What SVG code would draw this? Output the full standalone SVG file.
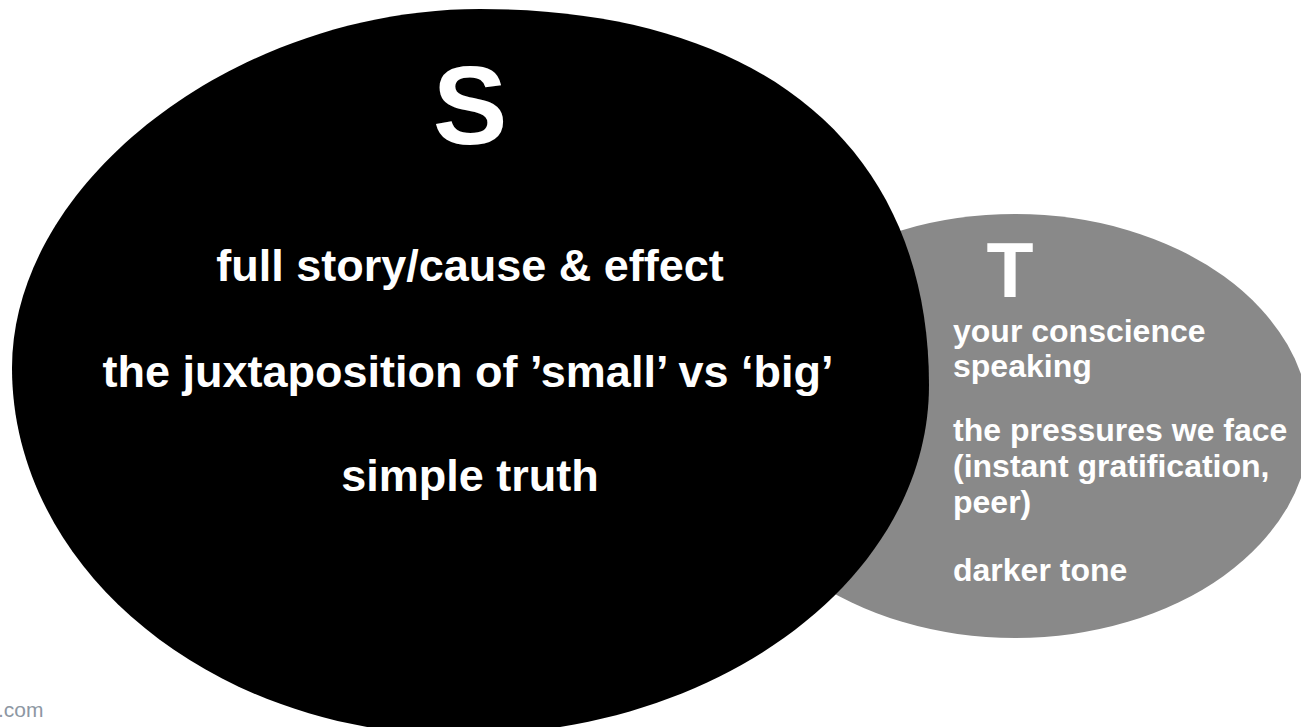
<svg xmlns="http://www.w3.org/2000/svg" width="1301" height="727" viewBox="0 0 1301 727">
  <style>
    .lbl { font-family: "Liberation Sans", Arial, sans-serif; font-weight: bold; fill: #ffffff; }
    .big { font-size: 45px; text-anchor: middle; }
    .small { font-size: 32px; }
    .note { font-family: "Liberation Sans", Arial, sans-serif; font-size: 21px; fill: #8d97a3; }
  </style>
  <rect x="0" y="0" width="1301" height="727" fill="#ffffff"/>
  <g id="node-T">
    <ellipse cx="1015" cy="426" rx="295" ry="212" fill="#898989"/>
  </g>
  <g id="node-S">
    <path d="M 12,368 C 12,181 237,9 480,9 C 763,9 929,148 929,385 C 929,578 719,735 460,735 C 214,735 12,570 12,368 Z" fill="#000000"/>
    <text class="lbl" x="470" y="144" font-size="112" text-anchor="middle">S</text>
    <text class="lbl big" x="470" y="281">full story/cause &amp; effect</text>
    <text class="lbl big" x="468" y="387">the juxtaposition of ’small’ vs ‘big’</text>
    <text class="lbl big" x="470" y="491">simple truth</text>
  </g>
  <g id="node-T-text">
    <text class="lbl" x="1010" y="297" font-size="77" text-anchor="middle">T</text>
    <text class="lbl small" x="953" y="342">your conscience</text>
    <text class="lbl small" x="953" y="377">speaking</text>
    <text class="lbl small" x="953" y="441">the pressures we face</text>
    <text class="lbl small" x="953" y="477">(instant gratification,</text>
    <text class="lbl small" x="953" y="513">peer)</text>
    <text class="lbl small" x="953" y="581">darker tone</text>
  </g>
  <g id="footer">
    <text class="note" x="-2" y="717">.com</text>
  </g>
  <g id="connectors"></g>
</svg>
